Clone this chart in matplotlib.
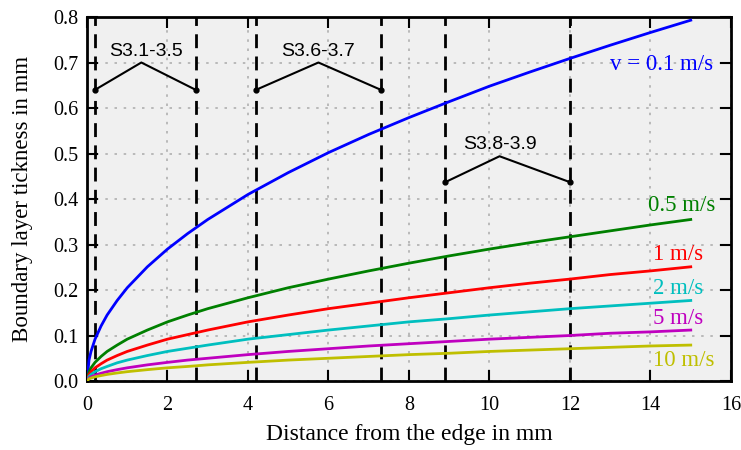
import numpy as np
import matplotlib.pyplot as plt

# distance from the edge (mm) and read-off thickness values (mm)
x_mm = [0, 0.05, 0.1, 0.2, 0.35, 0.5, 0.75, 1, 1.5, 2, 2.5, 3, 4, 5, 6, 7,
        8, 9, 10, 11, 12, 13, 14, 15]
d_v01 = [0, 0.046, 0.065, 0.092, 0.121, 0.145, 0.177, 0.205, 0.251, 0.290,
         0.324, 0.355, 0.410, 0.458, 0.502, 0.542, 0.579, 0.614, 0.648,
         0.679, 0.709, 0.738, 0.766, 0.793]
d_v05 = [0, 0.0205, 0.029, 0.041, 0.054, 0.065, 0.079, 0.092, 0.112, 0.130,
         0.145, 0.159, 0.183, 0.205, 0.224, 0.242, 0.259, 0.275, 0.290,
         0.304, 0.317, 0.330, 0.343, 0.355]
d_v1 = [0, 0.0145, 0.0205, 0.029, 0.038, 0.046, 0.056, 0.065, 0.079, 0.092,
        0.102, 0.112, 0.130, 0.145, 0.159, 0.171, 0.183, 0.194, 0.205,
        0.215, 0.224, 0.234, 0.242, 0.251]
d_v2 = [0, 0.010, 0.0145, 0.0205, 0.027, 0.032, 0.040, 0.046, 0.056, 0.065,
        0.072, 0.079, 0.092, 0.102, 0.112, 0.121, 0.130, 0.137, 0.145,
        0.152, 0.159, 0.165, 0.171, 0.177]
d_v5 = [0, 0.0065, 0.0092, 0.013, 0.017, 0.0205, 0.025, 0.029, 0.0355,
        0.041, 0.046, 0.050, 0.058, 0.065, 0.071, 0.077, 0.082, 0.087,
        0.092, 0.096, 0.100, 0.105, 0.108, 0.112]
d_v10 = [0, 0.0046, 0.0065, 0.0092, 0.012, 0.0145, 0.0177, 0.0205, 0.025,
         0.029, 0.032, 0.0355, 0.041, 0.046, 0.050, 0.054, 0.058, 0.061,
         0.065, 0.068, 0.071, 0.074, 0.077, 0.079]

curves = [d_v01, d_v05, d_v1, d_v2, d_v5, d_v10]
labels = ['v = 0.1 m/s', '0.5 m/s', '1 m/s', '2 m/s', '5 m/s', '10 m/s']
colors = ['b', 'g', 'r', 'c', 'm', 'y']
label_x = [13.0, 13.95, 14.05, 14.05, 14.05, 14.05]
label_y = [0.695, 0.385, 0.277, 0.204, 0.138, 0.044]

# sensor groups: dashed bounds, bracket heights, names
section_names = ['S3.1-3.5', 'S3.6-3.7', 'S3.8-3.9']
section_lo = [0.2, 4.2, 8.9]
section_hi = [2.7, 7.3, 12.0]
bracket_y = [0.64, 0.64, 0.437]
peak_x = [1.35, 5.75, 10.25]
peak_y = [0.70, 0.70, 0.494]
name_x = [1.47, 5.74, 10.26]

classic_colors = {'b': (0, 0, 1), 'g': (0, 0.5, 0), 'r': (1, 0, 0),
                  'c': (0, 0.75, 0.75), 'm': (0.75, 0, 0.75),
                  'y': (0.75, 0.75, 0)}

plt.rcParams['font.family'] = ['Liberation Serif', 'DejaVu Serif']

fig = plt.figure(figsize=(7.41, 4.5), dpi=100)
ax = fig.add_axes([0.1174, 0.1533, 0.8691, 0.8089])
ax.set_facecolor('#f0f0f0')

for d, lab, c, lx, ly in zip(curves, labels, colors, label_x, label_y):
    col = classic_colors[c]
    ax.plot(x_mm, d, color=col, lw=2, zorder=3)
    ax.text(lx, ly, lab, color=col, fontsize=16.5, ha='left', va='center')

for lo, hi, by, px, py, nx, name in zip(section_lo, section_hi, bracket_y,
                                        peak_x, peak_y, name_x, section_names):
    for xv in (lo, hi):
        ax.axvline(xv, color='k', lw=2, linestyle=(0, (5, 3)), zorder=2)
    ax.plot([lo, px, hi], [by, py, by], color='k', lw=1.5, zorder=4)
    ax.plot([lo, hi], [by, by], 'ko', ms=3.5, zorder=4)
    ax.text(nx, py + 0.025, name, family=['Liberation Sans', 'DejaVu Sans'],
            fontsize=14, ha='center', va='center')

ax.set_xlim(0, 16)
ax.set_ylim(0, 0.8)
ax.set_xticks(np.arange(0, 17, 2))
ax.set_yticks(np.arange(0, 0.81, 0.1))
ax.set_yticklabels(['%.1f' % v for v in np.arange(0, 0.81, 0.1)])
ax.grid(True, color='#b0b0b0', linestyle=(0, (1.5, 4)), lw=1.2, zorder=0)
ax.tick_params(direction='in', top=True, right=True, length=8, width=1.5,
               labelsize=14.5, pad=6)
ax.tick_params(axis='x', pad=11)
for s in ax.spines.values():
    s.set_linewidth(2)

ax.set_xlabel('Distance from the edge in mm', fontsize=17, va='center')
ax.xaxis.set_label_coords(0.5, -0.148)
ax.set_ylabel('Boundary layer tickness in mm', fontsize=16.5, va='center')
ax.yaxis.set_label_coords(-0.1, 0.5)

fig.savefig('out.png', dpi=100)
